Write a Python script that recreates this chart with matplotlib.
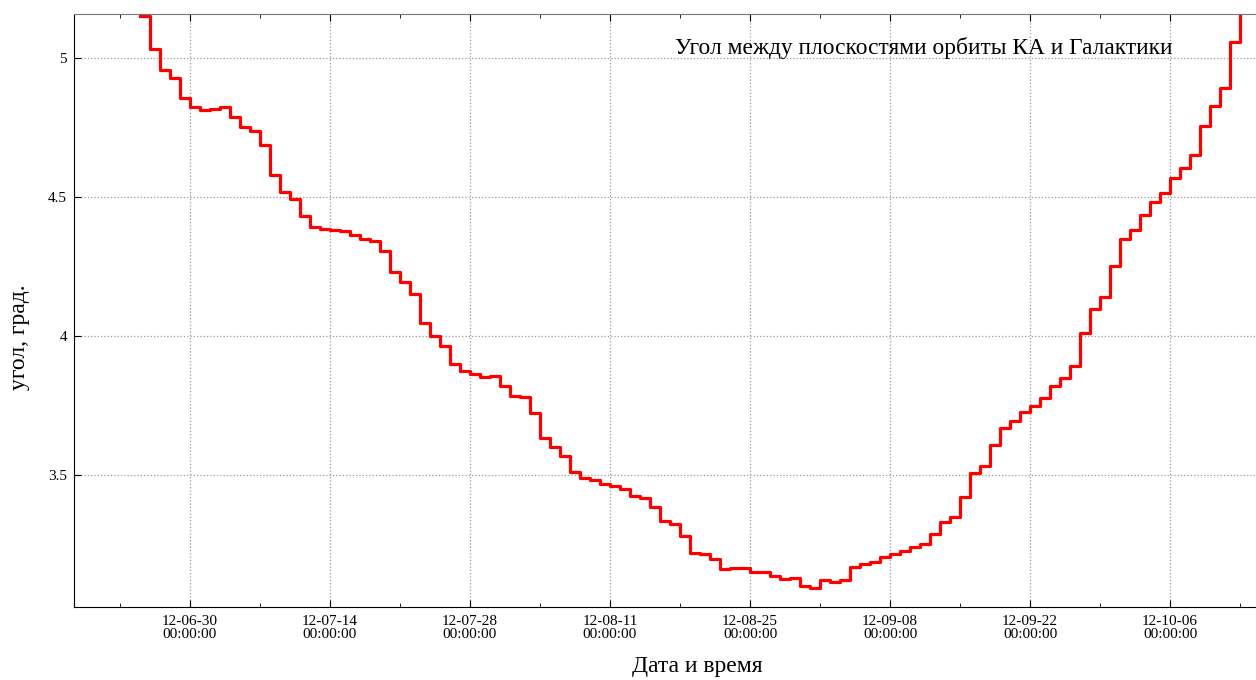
import datetime as dt
import matplotlib
matplotlib.use("Agg")
import matplotlib.pyplot as plt
import matplotlib.dates as mdates
from matplotlib.ticker import FixedLocator

plt.rcParams['font.family'] = ['Liberation Serif', 'DejaVu Serif']

# суточные значения угла начиная с 2012-06-25
start = dt.datetime(2012, 6, 25)
ugol = [5.15, 5.031, 4.957, 4.927, 4.857, 4.823, 4.813, 4.815, 4.825, 4.789,
        4.751, 4.737, 4.687, 4.579, 4.519, 4.493, 4.433, 4.391, 4.384, 4.381,
        4.378, 4.363, 4.348, 4.343, 4.307, 4.231, 4.195, 4.15, 4.048, 4.0,
        3.965, 3.898, 3.875, 3.862, 3.851, 3.856, 3.821, 3.785, 3.782, 3.724,
        3.632, 3.600, 3.569, 3.512, 3.490, 3.482, 3.467, 3.462, 3.449, 3.424,
        3.418, 3.386, 3.336, 3.324, 3.282, 3.218, 3.216, 3.197, 3.161, 3.167,
        3.164, 3.152, 3.152, 3.138, 3.126, 3.131, 3.102, 3.092, 3.122, 3.116,
        3.122, 3.168, 3.180, 3.188, 3.206, 3.216, 3.228, 3.242, 3.252, 3.288,
        3.332, 3.350, 3.420, 3.506, 3.532, 3.608, 3.668, 3.695, 3.728, 3.748,
        3.776, 3.820, 3.850, 3.893, 4.010, 4.096, 4.141, 4.252, 4.348, 4.381,
        4.435, 4.483, 4.515, 4.567, 4.603, 4.651, 4.755, 4.827, 4.891, 5.059,
        5.25, 5.25]
fechas = [start + dt.timedelta(days=i) for i in range(len(ugol))]

y_ticks = [3.5, 4.0, 4.5, 5.0]
y_labels = ['3.5', '4', '4.5', '5']

fig = plt.figure(figsize=(12.56, 6.8), dpi=100)
ax = fig.add_axes([74 / 1256, 73 / 680, 1 - 74 / 1256, 593 / 680])

ax.plot(fechas, ugol, drawstyle='steps-post', color='#ff0000', lw=2.3)

ax.set_xlim(dt.datetime(2012, 6, 18, 10), dt.datetime(2012, 10, 14, 14))
ax.set_ylim(3.025, 5.158)

# деления: основные каждые 14 дней, дополнительные посередине
majores = mdates.drange(dt.datetime(2012, 6, 30), dt.datetime(2012, 10, 20),
                        dt.timedelta(days=14))
minores = mdates.drange(dt.datetime(2012, 6, 23), dt.datetime(2012, 10, 20),
                        dt.timedelta(days=14))
ax.xaxis.set_major_locator(FixedLocator(majores))
ax.xaxis.set_minor_locator(FixedLocator(minores))
ax.xaxis.set_major_formatter(mdates.DateFormatter('%y-%m-%d\n%H:%M:%S'))
ax.set_yticks(y_ticks)
ax.set_yticklabels(y_labels)

ax.tick_params(which='both', direction='in', top=True, right=False,
               labelsize=11)
ax.tick_params(which='major', length=5, pad=6)
ax.tick_params(axis='y', pad=5)
ax.tick_params(which='minor', length=3)
for lab in ax.get_xticklabels():
    lab.set_linespacing(1.0)

ax.grid(True, which='major', linestyle=':', color='#999999', lw=0.9)
ax.spines['right'].set_visible(False)
ax.spines['top'].set_color('#777777')

ax.text(0.929, 0.943, 'Угол между плоскостями орбиты КА и Галактики',
        transform=ax.transAxes, ha='right', va='center', fontsize=16.8)
ax.set_ylabel('угол, град.', fontsize=17, va='center')
ax.yaxis.set_label_coords(-0.0465, 0.455)
ax.set_xlabel('Дата и время', fontsize=17, va='center')
ax.xaxis.set_label_coords(0.527, -0.101)

fig.savefig('out.png', dpi=100)
